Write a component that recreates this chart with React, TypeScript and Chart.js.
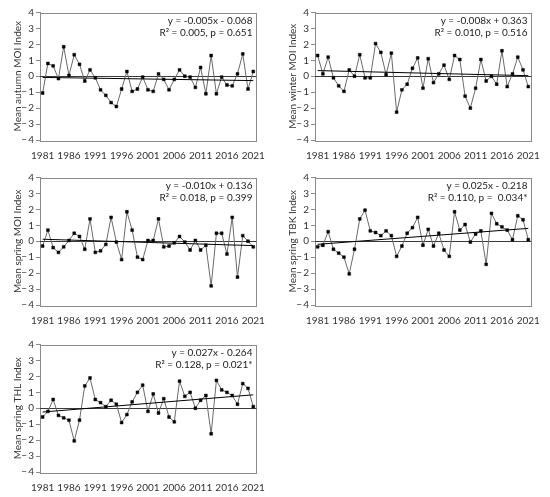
import React, { useEffect, useRef } from 'react';
import { Chart, registerables } from 'chart.js';

Chart.register(...registerables);

const YEARS = [
  1981, 1982, 1983, 1984, 1985, 1986, 1987, 1988, 1989, 1990,
  1991, 1992, 1993, 1994, 1995, 1996, 1997, 1998, 1999, 2000,
  2001, 2002, 2003, 2004, 2005, 2006, 2007, 2008, 2009, 2010,
  2011, 2012, 2013, 2014, 2015, 2016, 2017, 2018, 2019, 2020, 2021,
];
const X_TICKS = [1981, 1986, 1991, 1996, 2001, 2006, 2011, 2016, 2021];
const Y_TICKS = [-4, -3, -2, -1, 0, 1, 2, 3, 4];

const AUTUMN_MOI = [
  -1.05, 0.8, 0.65, -0.15, 1.85, 0.05, 1.35, 0.75, -0.3, 0.4,
  -0.1, -0.85, -1.2, -1.65, -1.9, -0.8, 0.3, -0.95, -0.8, -0.05,
  -0.85, -0.95, 0.15, -0.2, -0.85, -0.2, 0.4, 0.0, -0.05, -0.7,
  0.55, -1.1, 1.3, -1.1, -0.05, -0.55, -0.6, 0.15, 1.4, -0.8, 0.3,
];
const WINTER_MOI = [
  1.3, 0.15, 1.2, -0.1, -0.6, -0.95, 0.4, 0.0, 1.35, -0.1,
  -0.1, 2.05, 1.5, 0.1, 1.45, -2.25, -0.85, -0.5, 0.5, 1.15,
  -0.75, 1.1, -0.4, 0.15, 0.7, -0.2, 1.3, 1.05, -1.25, -2.0,
  -0.75, 1.05, -0.3, 0.0, -0.5, 1.6, -0.65, 0.15, 1.2, 0.4, -0.65,
];
const SPRING_MOI = [
  -0.3, 0.7, -0.4, -0.7, -0.35, 0.05, 0.5, 0.3, -0.5, 1.4,
  -0.7, -0.6, -0.2, 1.5, -0.05, -1.15, 1.85, 0.7, -1.0, -1.15,
  0.05, 0.05, 1.4, -0.35, -0.3, -0.1, 0.3, -0.05, -0.55, 0.05,
  -0.55, -0.25, -2.8, 0.5, 0.5, -0.8, 1.5, -2.25, 0.35, 0.0, -0.35,
];
const SPRING_TBK = [
  -0.35, -0.25, 0.6, -0.5, -0.75, -1.0, -2.05, -0.5, 1.4, 1.95,
  0.65, 0.55, 0.35, 0.65, 0.35, -0.95, -0.3, 0.5, 0.85, 1.5,
  -0.25, 0.75, -0.3, 0.5, -0.55, -0.95, 1.85, 0.7, 1.05, -0.05,
  0.45, 0.65, -1.45, 1.75, 1.1, 0.9, 0.7, 0.1, 1.6, 1.35, 0.1,
];
const SPRING_THL = [
  -0.55, -0.2, 0.55, -0.45, -0.6, -0.75, -2.05, -0.75, 1.4, 1.9,
  0.55, 0.35, 0.1, 0.5, 0.25, -0.9, -0.4, 0.4, 1.0, 1.45,
  -0.2, 0.9, -0.3, 0.6, -0.55, -0.85, 1.7, 0.75, 1.0, 0.0,
  0.5, 0.8, -1.6, 1.75, 1.15, 1.0, 0.8, 0.25, 1.55, 1.25, 0.1,
];

const TITLES = [
  'Mean autumn MOI Index',
  'Mean winter MOI Index',
  'Mean spring MOI Index',
  'Mean spring TBK Index',
  'Mean spring THL Index',
];
const SLOPES = [-0.005, -0.008, -0.01, 0.025, 0.027];
const INTERCEPTS = [-0.068, 0.363, 0.136, -0.218, -0.264];
const EQ_LABELS = [
  'y = -0.005x - 0.068',
  'y = -0.008x + 0.363',
  'y = -0.010x + 0.136',
  'y = 0.025x - 0.218',
  'y = 0.027x - 0.264',
];
const STAT_LABELS = [
  'R² = 0.005, p = 0.651',
  'R² = 0.010, p = 0.516',
  'R² = 0.018, p = 0.399',
  'R² = 0.110, p =  0.034*',
  'R² = 0.128, p = 0.021*',
];
const SERIES = [AUTUMN_MOI, WINTER_MOI, SPRING_MOI, SPRING_TBK, SPRING_THL];

const FONT = 'Lato, "Noto Sans", sans-serif';
const FRAME = '#8a8a8a';
const TEXT = '#333333';

type PanelProps = {
  left: number;
  top: number;
  idx: number;
};

function Panel({ left, top, idx }: PanelProps) {
  const ref = useRef<HTMLCanvasElement>(null);
  useEffect(() => {
    const canvas = ref.current;
    if (!canvas) return;
    const values = SERIES[idx];
    const n = YEARS.length;
    const trend = [
      { x: YEARS[0], y: INTERCEPTS[idx] + SLOPES[idx] * 1 },
      { x: YEARS[n - 1], y: INTERCEPTS[idx] + SLOPES[idx] * n },
    ];
    const eq = EQ_LABELS[idx];
    const stat = STAT_LABELS[idx];
    const framePlugin = {
      id: 'frame' + idx,
      beforeDatasetsDraw(chart: any) {
        const { ctx, chartArea } = chart;
        const ys = chart.scales.y;
        ctx.save();
        ctx.strokeStyle = FRAME;
        ctx.lineWidth = 1;
        ctx.strokeRect(
          Math.round(chartArea.left) + 0.5,
          Math.round(chartArea.top) + 0.5,
          Math.round(chartArea.right - chartArea.left),
          Math.round(chartArea.bottom - chartArea.top)
        );
        const y0 = Math.round(ys.getPixelForValue(0)) + 0.5;
        ctx.strokeStyle = '#3a3a3a';
        ctx.beginPath();
        ctx.moveTo(chartArea.left, y0);
        ctx.lineTo(chartArea.right, y0);
        ctx.stroke();
        ctx.restore();
      },
      afterDraw(chart: any) {
        const { ctx, chartArea } = chart;
        ctx.save();
        ctx.fillStyle = '#222222';
        ctx.font = `10px ${FONT}`;
        ctx.textAlign = 'right';
        ctx.textBaseline = 'middle';
        ctx.fillText(eq, chartArea.right - 4, chartArea.top + 8.5);
        ctx.fillText(stat, chartArea.right - 4, chartArea.top + 20);
        ctx.restore();
      },
    };
    const chart = new Chart(canvas, {
      type: 'line',
      data: {
        datasets: [
          {
            data: trend,
            borderColor: '#000000',
            borderWidth: 1,
            pointRadius: 0,
          },
          {
            data: YEARS.map((y, i) => ({ x: y, y: values[i] })),
            borderColor: '#6a6a6a',
            borderWidth: 1,
            pointStyle: 'rect',
            pointRadius: 2,
            pointBackgroundColor: '#000000',
            pointBorderColor: '#000000',
            pointBorderWidth: 0.5,
          },
        ],
      },
      options: {
        responsive: false,
        animation: false,
        layout: { padding: { top: 12.5, right: 8, left: 0, bottom: 0 } },
        plugins: { legend: { display: false }, tooltip: { enabled: false } },
        scales: {
          x: {
            type: 'linear',
            min: 1980.5,
            max: 2021.6,
            grid: { display: false, drawTicks: false },
            border: { display: false },
            afterBuildTicks: (s: any) => {
              s.ticks = X_TICKS.map((v) => ({ value: v }));
            },
            afterFit: (s: any) => {
              s.height = 26;
            },
            ticks: {
              padding: 10,
              maxRotation: 0,
              autoSkip: false,
              color: TEXT,
              font: { family: FONT, size: 10 },
              callback: (v: any) => String(v),
            },
          },
          y: {
            min: -4,
            max: 4,
            afterBuildTicks: (s: any) => {
              s.ticks = Y_TICKS.map((v) => ({ value: v }));
            },
            afterFit: (s: any) => {
              s.width = 40;
            },
            grid: {
              drawOnChartArea: false,
              drawTicks: true,
              tickLength: 4,
              color: FRAME,
            },
            border: { display: true, color: FRAME },
            ticks: {
              padding: 2,
              color: TEXT,
              font: { family: FONT, size: 10 },
              callback: (v: any) => (Number(v) < 0 ? '\u2212\u2009' + Math.abs(Number(v)) : String(v)),
            },
            title: {
              display: true,
              text: TITLES[idx],
              color: TEXT,
              font: { family: FONT, size: 10 },
              padding: { top: 12, bottom: 0 },
            },
          },
        },
      },
      plugins: [framePlugin],
    } as any);
    return () => chart.destroy();
  }, [idx]);
  return (
    <div style={{ position: 'absolute', left, top, width: 275, height: 166 }}>
      <canvas ref={ref} width={275} height={166} style={{ width: 275, height: 166 }} />
    </div>
  );
}

const POSITIONS = [
  { left: 0, top: 0 },
  { left: 275, top: 0 },
  { left: 0, top: 165 },
  { left: 275, top: 165 },
  { left: 0, top: 332 },
];

export default function App() {
  return (
    <div
      style={{
        position: 'absolute',
        left: 0,
        top: 0,
        width: 550,
        height: 497,
        background: '#ffffff',
        overflow: 'hidden',
      }}
    >
      {POSITIONS.map((p, i) => (
        <Panel key={i} left={p.left} top={p.top} idx={i} />
      ))}
    </div>
  );
}
